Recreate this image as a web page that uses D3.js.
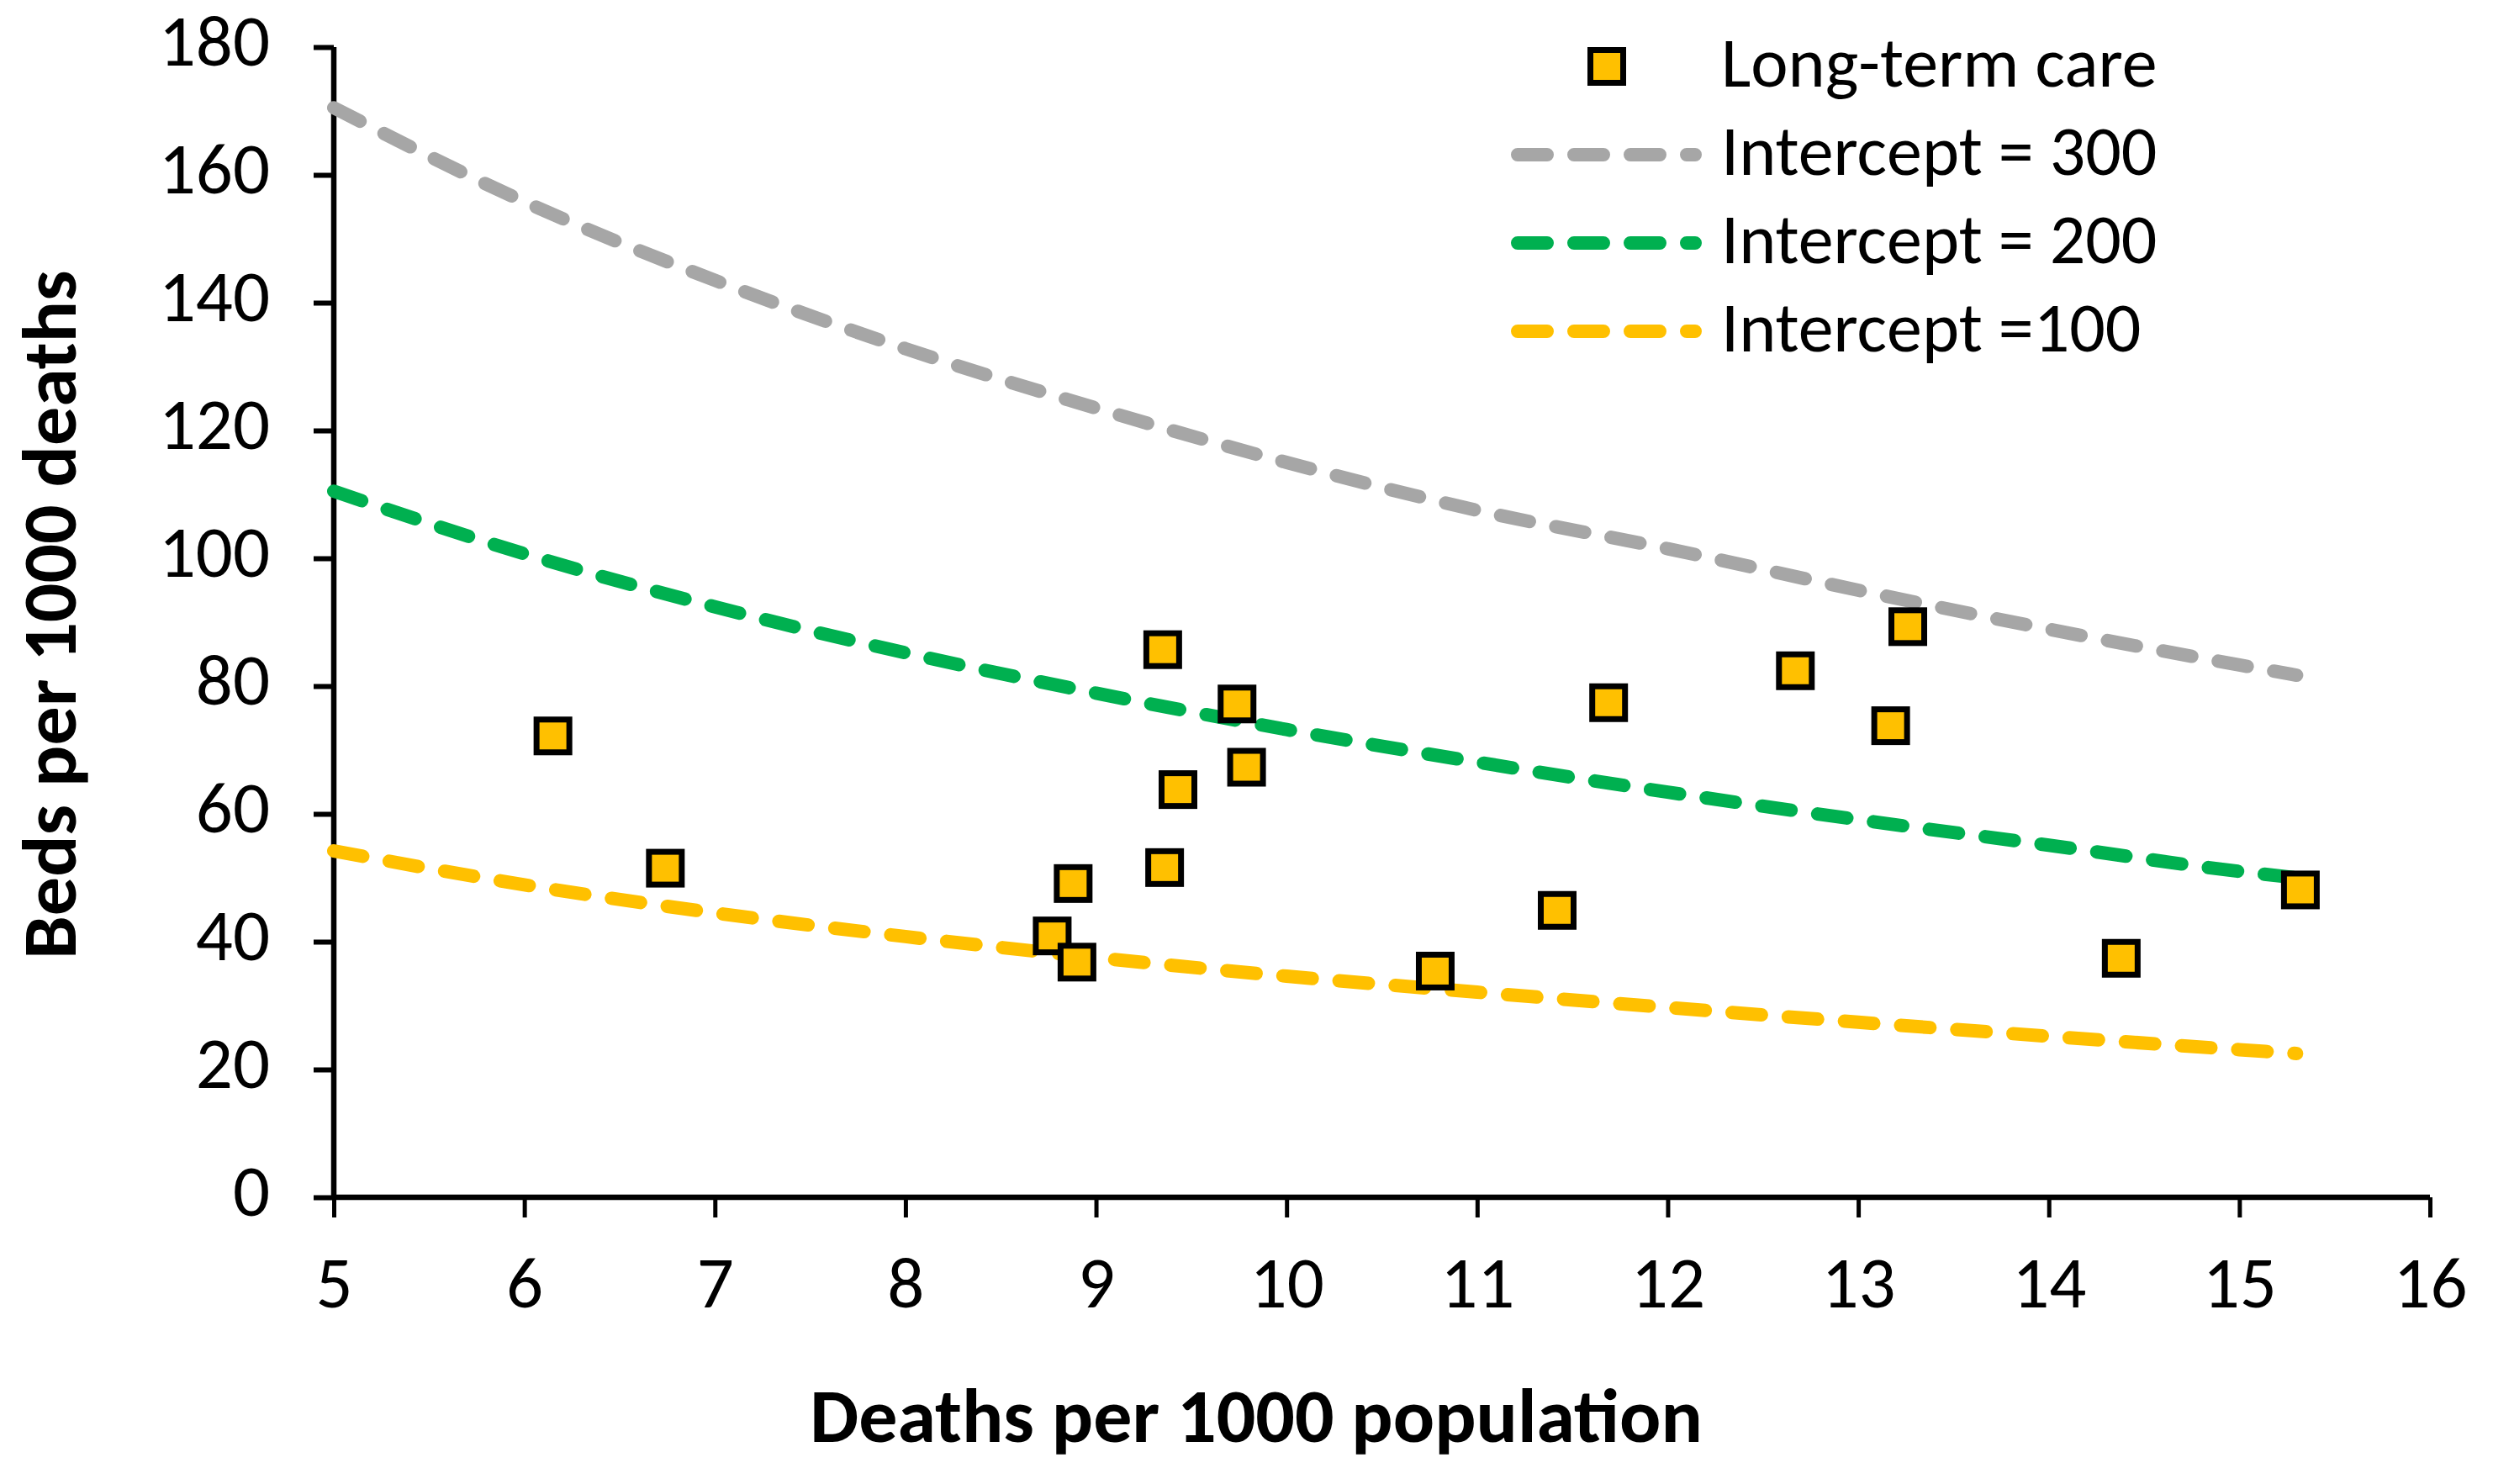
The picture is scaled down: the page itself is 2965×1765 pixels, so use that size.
<!DOCTYPE html>
<html>
<head>
<meta charset="utf-8">
<script src="https://cdn.jsdelivr.net/npm/d3@7"></script>
<style>
  html, body { margin: 0; padding: 0; background: #fff; }
  svg { display: block; }
  .axis text { font-family: Carlito, Lato, sans-serif; font-size: 87px; fill: #000; }
  .axis-title { font-family: Carlito, Lato, sans-serif; font-size: 92px; font-weight: 700; fill: #000; }
  .legend text { font-family: Carlito, Lato, sans-serif; font-size: 84px; fill: #000; }
</style>
</head>
<body>
<div id="chart"></div>
<script>
const xLabel = "Deaths per 1000 population"
const yLabel = "Beds per 1000 deaths"

// Long-term care countries
const careX = [6.15, 6.74, 8.77, 8.88, 8.9, 9.35, 9.36, 9.43, 9.74, 9.79, 10.78, 11.42, 11.69, 12.67, 13.17, 13.26, 14.38, 15.32]
const careY = [72.2, 51.5, 40.9, 49.1, 36.8, 85.7, 51.6, 63.8, 77.2, 67.3, 35.4, 44.9, 77.4, 82.4, 73.8, 89.3, 37.4, 48.1]

// dashed reference curves
const curveX = [5, 6, 7, 8, 9, 10, 11, 12, 13, 14, 15, 15.3]
const intercept300 = [170.5, 155.8, 143.5, 132.8, 123.5, 115.0, 107.5, 101.5, 95.0, 88.9, 83.3, 81.7]
const intercept200 = [110.5, 100.7, 92.4, 85.2, 78.9, 73.2, 68.1, 63.4, 59.1, 55.1, 51.0, 50.0]
const intercept100 = [54.2, 48.9, 44.5, 40.8, 37.5, 34.6, 32.1, 29.7, 27.4, 25.2, 23.1, 22.5]

const xTicks = [5, 6, 7, 8, 9, 10, 11, 12, 13, 14, 15, 16]
const yTicks = [0, 20, 40, 60, 80, 100, 120, 140, 160, 180]

const seriesKeys = ["care", "i300", "i200", "i100"]
const codebook = {
  care: { label: "Long-term care", color: "#FFC000" },
  i300: { label: "Intercept = 300", color: "#A6A6A6", values: intercept300 },
  i200: { label: "Intercept = 200", color: "#00B050", values: intercept200 },
  i100: { label: "Intercept =100", color: "#FFC000", values: intercept100 },
}

const width = 2965
const height = 1765
const margin = { top: 56, right: 75, bottom: 341, left: 397 }
const innerWidth = width - margin.left - margin.right
const innerHeight = height - margin.top - margin.bottom

const svg = d3
  .select("#chart")
  .append("svg")
  .attr("width", width)
  .attr("height", height)

const group = svg
  .append("g")
  .attr("transform", "translate(" + margin.left + "," + margin.top + ")")

// Scales
let x = d3.scaleLinear().domain([5, 16]).range([0, innerWidth])
let y = d3.scaleLinear().domain([0, 180]).range([innerHeight, 0])

// Axes
group
  .append("g")
  .attr("class", "y axis")
  .call(d3.axisLeft(y).tickValues(yTicks).tickSize(24).tickPadding(52))
  .call(g => g.select(".domain").attr("stroke-width", 6.5).attr("d", `M0,0V${innerHeight}`))
  .call(g => g.selectAll(".tick line").attr("stroke-width", 6))
  .call(g => g.selectAll(".tick text").attr("dy", "0.25em"))

group
  .append("g")
  .attr("class", "x axis")
  .attr("transform", "translate(0," + innerHeight + ")")
  .call(d3.axisBottom(x).tickValues(xTicks).tickSize(24).tickPadding(45))
  .call(g => g.select(".domain").attr("stroke-width", 6.5).attr("d", `M0,0H${innerWidth}`))
  .call(g => g.selectAll(".tick line").attr("stroke-width", 5))

// Axis titles
group
  .append("text")
  .attr("class", "axis-title")
  .text(xLabel)
  .attr("text-anchor", "middle")
  .attr("x", 1494 - margin.left)
  .attr("y", 1715 - margin.top)

svg
  .append("text")
  .attr("class", "axis-title")
  .text(yLabel)
  .attr("text-anchor", "middle")
  .attr("transform", "translate(90,731) rotate(-90)")

// Dashed curves
let line = d3
  .line()
  .x((d, i) => x(curveX[i]))
  .y(d => y(d))
  .curve(d3.curveMonotoneX)

group
  .append("g")
  .attr("class", "lines")
  .selectAll("path")
  .data(["i300", "i200", "i100"])
  .join("path")
  .attr("d", d => line(codebook[d].values))
  .attr("fill", "none")
  .attr("stroke", d => codebook[d].color)
  .attr("stroke-width", 16)
  .attr("stroke-linecap", "round")
  .attr("stroke-dasharray", "35,32")

// Points
const markerSize = 39
group
  .append("g")
  .attr("class", "points")
  .selectAll("rect")
  .data(careX.map((d, i) => ({ x: d, y: careY[i] })))
  .join("rect")
  .attr("x", d => x(d.x) - markerSize / 2)
  .attr("y", d => y(d.y) - markerSize / 2)
  .attr("width", markerSize)
  .attr("height", markerSize)
  .attr("fill", codebook.care.color)
  .attr("stroke", "#000")
  .attr("stroke-width", 7)

// Legend
let legend = svg.append("g").attr("class", "legend")
let rowY = [79, 184, 289, 394]

let rows = legend
  .selectAll("g")
  .data(seriesKeys)
  .join("g")
  .attr("transform", (d, i) => `translate(0,${rowY[i]})`)

rows
  .filter(d => d === "care")
  .append("rect")
  .attr("x", 1911 - markerSize / 2)
  .attr("y", -markerSize / 2)
  .attr("width", markerSize)
  .attr("height", markerSize)
  .attr("fill", codebook.care.color)
  .attr("stroke", "#000")
  .attr("stroke-width", 7)

rows
  .filter(d => d !== "care")
  .append("line")
  .attr("x1", 1805)
  .attr("x2", 2016)
  .attr("stroke", d => codebook[d].color)
  .attr("stroke-width", 16)
  .attr("stroke-linecap", "round")
  .attr("stroke-dasharray", "35,32")

rows
  .append("text")
  .attr("x", 2047)
  .attr("y", 24)
  .text(d => codebook[d].label)
</script>
</body>
</html>
